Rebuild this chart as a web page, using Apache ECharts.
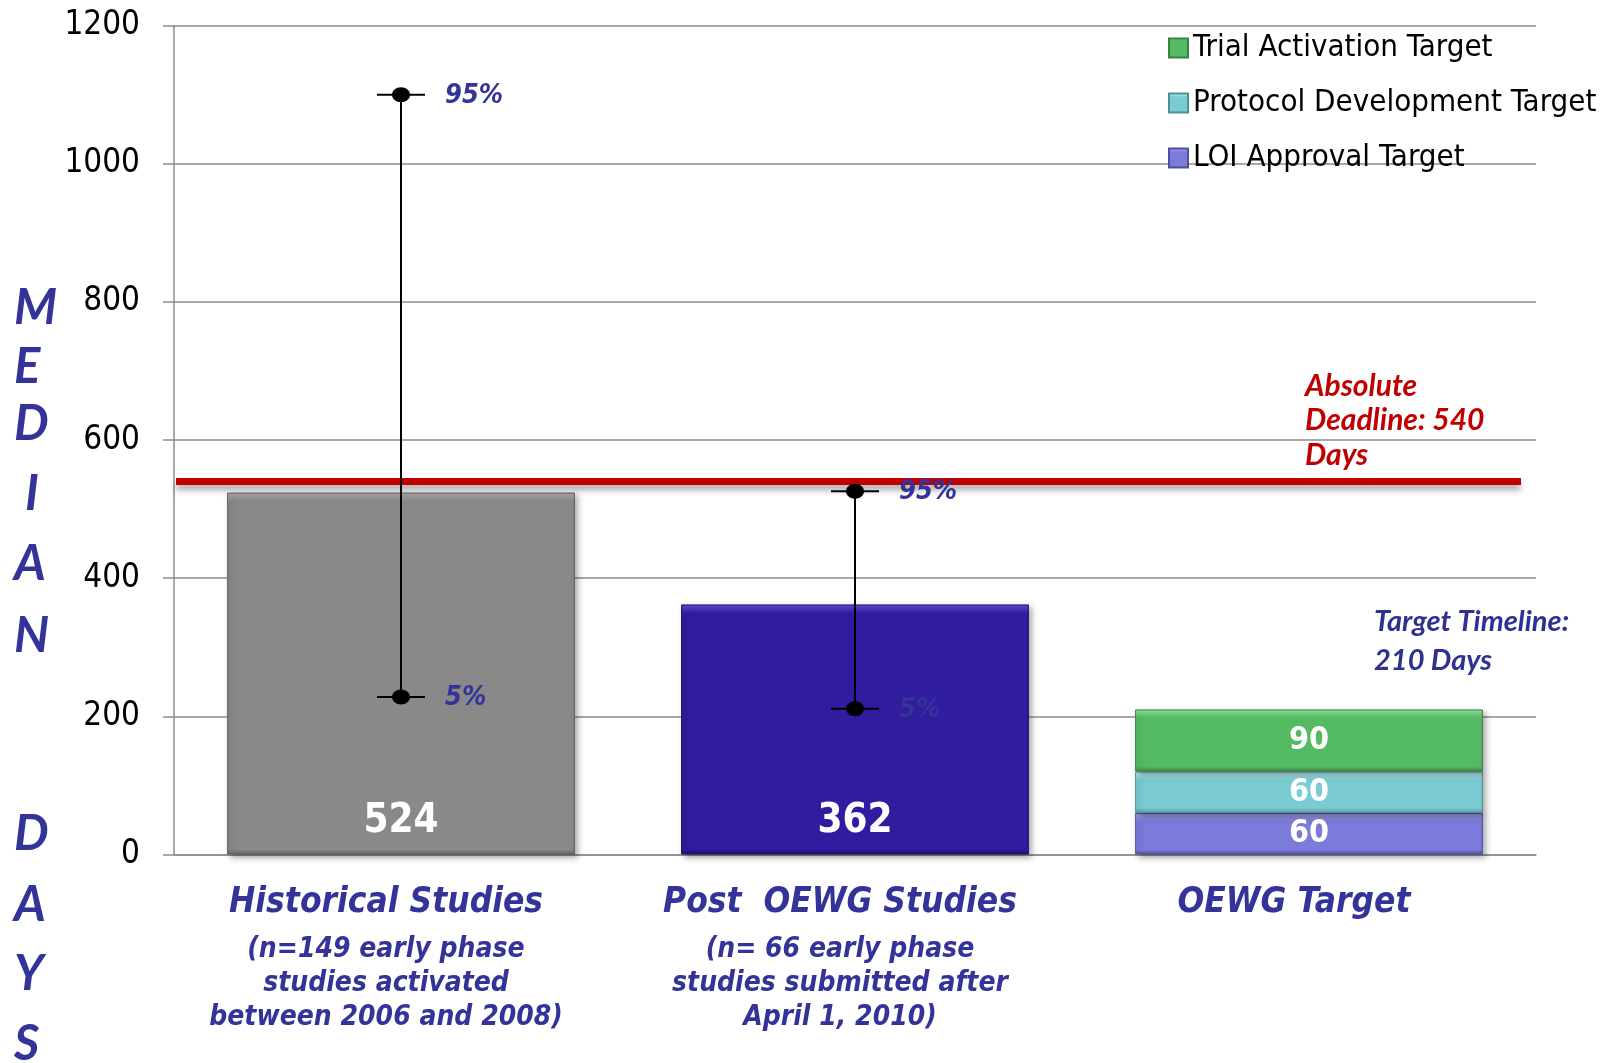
<!DOCTYPE html>
<html>
<head>
<meta charset="utf-8">
<title>Median Days to Activation</title>
<script src="https://cdn.jsdelivr.net/npm/echarts@6/dist/echarts.min.js"></script>
<style>
  html, body { margin: 0; padding: 0; background: #ffffff; }
  #chart { width: 1608px; height: 1063px; }
</style>
</head>
<body>
<div id="chart"></div>
<script>
// ---- data ----
const categories = ['Historical Studies', 'Post  OEWG Studies', 'OEWG Target'];
const categoryNotes = [
  ['(n=149 early phase', 'studies activated', 'between 2006 and 2008)'],
  ['(n= 66 early phase', 'studies submitted after', 'April 1, 2010)'],
  []
];
const medianDays = [524, 362, null];
const loiApprovalTarget = [null, null, 60];
const protocolDevTarget = [null, null, 60];
const trialActivationTarget = [null, null, 90];
const percentile95 = [1100, 526, null];
const percentile5 = [228, 211, null];
const deadlineDays = 540;
const targetTimelineDays = 210;
const yTicks = { min: 0, max: 1200, interval: 200 };

// ---- fonts & colours ----
const NARROW = "'DejaVu Sans Condensed','Liberation Sans Narrow','Arial Narrow','Liberation Sans',sans-serif";
const HUMANIST = "Lato,'Open Sans','Noto Sans',sans-serif";
const NAVY = '#333399';

const grid = { left: 174, right: 72, top: 25.6, bottom: 208.5 };
const plotHeight = 1063 - grid.top - grid.bottom;
const pxPerDay = plotHeight / yTicks.max;

// vertical bevel: lighter top edge, darker bottom edge
function bevel(base, light, dark, value) {
  const h = Math.max(value * pxPerDay, 1);
  const e1 = Math.min(9 / h, 0.3), e2 = Math.min(5 / h, 0.2);
  return {
    type: 'linear', x: 0, y: 0, x2: 0, y2: 1,
    colorStops: [
      { offset: 0, color: light },
      { offset: e1, color: base },
      { offset: 1 - e2, color: base },
      { offset: 1, color: dark }
    ]
  };
}

const palette = {
  gray:   ['#898989', '#B0B0B0', '#6A6A6A', '#5F5F5F'],
  blue:   ['#301C9F', '#5E4FDC', '#1F1070', '#1C0F66'],
  green:  ['#55BB63', '#93E79F', '#3C8747', '#3A7F44'],
  teal:   ['#7ACCD2', '#C4FCFF', '#57999E', '#4F9095'],
  purple: ['#7B7BDB', '#ADADF7', '#5757A6', '#50509A']
};

const shadow = { shadowColor: 'rgba(0,0,0,0.35)', shadowBlur: 6, shadowOffsetX: 3, shadowOffsetY: 3 };

function medianItems() {
  const keys = ['gray', 'blue'];
  return medianDays.map((v, i) => {
    if (v == null) return '-';
    const p = palette[keys[i]];
    return { value: v, itemStyle: Object.assign({ color: bevel(p[0], p[1], p[2], v), borderColor: p[3], borderWidth: 1 }, shadow) };
  });
}

function stackSeries(name, values, key) {
  const p = palette[key];
  const v = values.find(x => x != null);
  return {
    name: name,
    type: 'bar',
    stack: 'days',
    barCategoryGap: '23.4%',
    data: values.map(x => x == null ? '-' : x),
    itemStyle: Object.assign({ color: bevel(p[0], p[1], p[2], v), borderColor: p[3], borderWidth: 1 }, shadow),
    label: {
      show: true, position: 'inside', color: '#ffffff',
      fontFamily: NARROW, fontWeight: 'bold', fontSize: 32
    },
    z: 3
  };
}

const rangeData = percentile5.map((lo, i) => lo == null ? null : [i, lo, percentile95[i]]).filter(Boolean);

function renderRange(params, api) {
  const x = api.value(0);
  const lo = api.coord([x, api.value(1)]);
  const hi = api.coord([x, api.value(2)]);
  const cx = lo[0];
  const stroke = { stroke: '#000000', lineWidth: 2 };
  const pctText = (label, y) => ({
    type: 'text',
    style: {
      x: cx + 44, y: y + 1, text: label, fill: NAVY,
      fontFamily: NARROW, fontStyle: 'italic', fontWeight: 'bold', fontSize: 27,
      align: 'left', verticalAlign: 'middle'
    }
  });
  return {
    type: 'group',
    children: [
      { type: 'line', shape: { x1: cx, y1: hi[1], x2: cx, y2: lo[1] }, style: stroke },
      { type: 'line', shape: { x1: cx - 24, y1: hi[1], x2: cx + 24, y2: hi[1] }, style: stroke },
      { type: 'line', shape: { x1: cx - 24, y1: lo[1], x2: cx + 24, y2: lo[1] }, style: stroke },
      { type: 'ellipse', shape: { cx: cx, cy: hi[1], rx: 9, ry: 7.5 }, style: { fill: '#000000' } },
      { type: 'ellipse', shape: { cx: cx, cy: lo[1], rx: 9, ry: 7.5 }, style: { fill: '#000000' } },
      pctText('95%', hi[1]),
      pctText('5%', lo[1])
    ]
  };
}

// vertical axis title, one letter per line
const titleLetters = [
  ['M', 308], ['E', 367], ['D', 424], ['I', 494], ['A', 564], ['N', 636],
  ['D', 834], ['A', 905], ['Y', 974], ['S', 1044]
];

const option = {
  backgroundColor: '#ffffff',
  animation: false,
  grid: grid,
  legend: {
    orient: 'vertical',
    left: 1168, top: 32, padding: 0,
    itemWidth: 19, itemHeight: 19, itemGap: 23, itemTextGap: 10,
    icon: 'rect',
    data: ['Trial Activation Target', 'Protocol Development Target', 'LOI Approval Target'],
    textStyle: { fontFamily: NARROW, fontSize: 31, color: '#000000', lineHeight: 32 },
    selectedMode: false
  },
  xAxis: {
    type: 'category',
    data: categories,
    axisLine: { lineStyle: { color: '#8C8C8C', width: 1.5 } },
    axisTick: { show: false },
    axisLabel: {
      interval: 0,
      margin: 18,
      padding: [0, 30, 0, 0],
      formatter: (v, i) => ['{t|' + v + '}'].concat(categoryNotes[i].map(s => '{s|' + s + '}')).join('\n'),
      rich: {
        t: { fontFamily: NARROW, fontStyle: 'italic', fontWeight: 'bold', fontSize: 35, color: NAVY, lineHeight: 60, align: 'center' },
        s: { fontFamily: NARROW, fontStyle: 'italic', fontWeight: 'bold', fontSize: 28, color: NAVY, lineHeight: 34, align: 'center' }
      }
    }
  },
  yAxis: {
    type: 'value',
    min: yTicks.min, max: yTicks.max, interval: yTicks.interval,
    axisLine: { show: true, lineStyle: { color: '#8C8C8C', width: 1.5 } },
    axisTick: { show: true, length: 11, lineStyle: { color: '#8C8C8C', width: 1.5 } },
    splitLine: { lineStyle: { color: '#8C8C8C', width: 1.5 } },
    axisLabel: { margin: 34, fontFamily: NARROW, fontSize: 33, color: '#000000', formatter: v => String(v) }
  },
  series: [
    {
      name: 'Median',
      type: 'bar',
      stack: 'days',
      barCategoryGap: '23.4%',
      data: medianItems(),
      label: {
        show: true, position: 'insideBottom', distance: 13, color: '#ffffff',
        fontFamily: NARROW, fontWeight: 'bold', fontSize: 40
      },
      markLine: {
        silent: true,
        symbol: 'none',
        label: { show: false },
        lineStyle: { color: '#C00000', width: 7, type: 'solid', shadowColor: 'rgba(0,0,0,0.35)', shadowBlur: 6, shadowOffsetY: 5 },
        data: [[{ x: 176, yAxis: deadlineDays }, { x: 1521, yAxis: deadlineDays }]]
      },
      z: 2
    },
    stackSeries('LOI Approval Target', loiApprovalTarget, 'purple'),
    stackSeries('Protocol Development Target', protocolDevTarget, 'teal'),
    stackSeries('Trial Activation Target', trialActivationTarget, 'green'),
    {
      name: 'Percentiles',
      type: 'custom',
      renderItem: renderRange,
      data: rangeData,
      encode: { x: 0, y: [1, 2] },
      z: 10
    }
  ],
  graphic: [
    {
      type: 'text', left: 1305, top: 369,
      style: {
        text: 'Absolute\nDeadline: ' + deadlineDays + '\nDays',
        fill: '#C00000', fontFamily: HUMANIST, fontStyle: 'italic', fontWeight: 'bold',
        fontSize: 30, lineHeight: 34.5
      }
    },
    {
      type: 'text', left: 1374, top: 602,
      style: {
        text: 'Target Timeline:\n' + targetTimelineDays + ' Days',
        fill: '#2E3192', fontFamily: HUMANIST, fontStyle: 'italic', fontWeight: 'bold',
        fontSize: 29, lineHeight: 39
      }
    }
  ].concat(titleLetters.map(([ch, y]) => ({
    type: 'text',
    left: ch === 'I' ? 25 : 14,
    top: y - 28,
    style: {
      text: ch, fill: NAVY, fontFamily: HUMANIST, fontStyle: 'italic', fontWeight: 'bold',
      fontSize: 49, lineHeight: 56
    }
  })))
};

const chart = echarts.init(document.getElementById('chart'), null, { renderer: 'canvas' });
chart.setOption(option);
</script>
</body>
</html>
